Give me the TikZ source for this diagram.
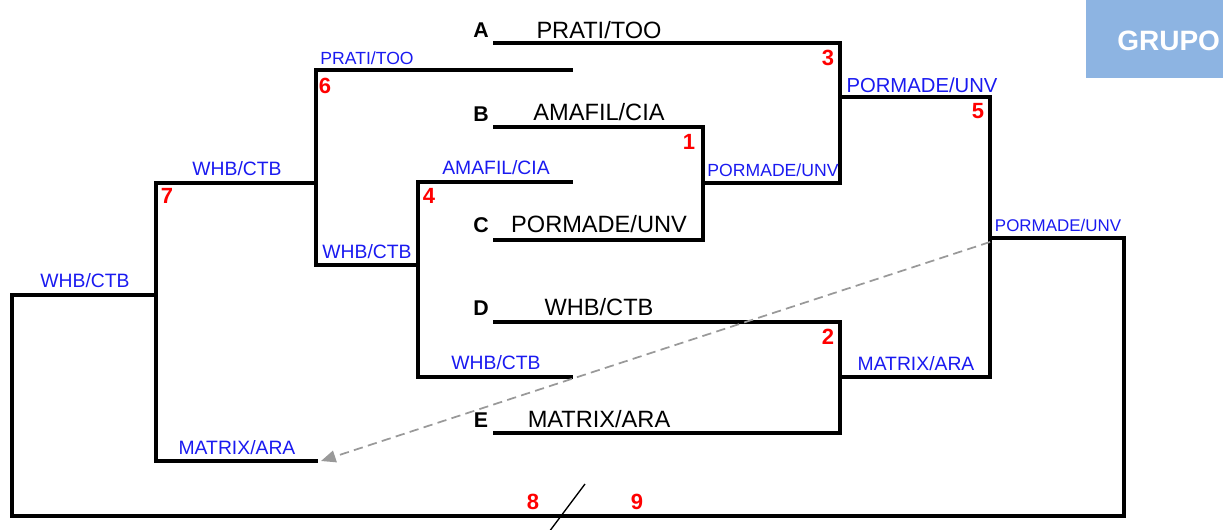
\documentclass[tikz,border=0pt]{standalone}
\usepackage{fontspec}
\setmainfont{Liberation Sans}
\usetikzlibrary{arrows.meta}
\definecolor{grupobg}{HTML}{8DB4E2}
\definecolor{lblblue}{HTML}{1A1AF0}
\definecolor{numred}{HTML}{FF0000}
\tikzset{
  br/.style={line width=2.6pt, line cap=rect},
  team/.style={font=\fontsize{17.7pt}{19pt}\selectfont, inner sep=0pt},
  letter/.style={font=\fontsize{16pt}{18pt}\selectfont\bfseries, inner sep=0pt},
  win/.style={font=\fontsize{14.5pt}{16pt}\selectfont, text=lblblue, inner sep=0pt},
  winsm/.style={font=\fontsize{13.2pt}{15pt}\selectfont, text=lblblue, inner sep=0pt},
  num/.style={font=\fontsize{16.5pt}{18pt}\selectfont\bfseries, text=numred, inner sep=0pt},
}
\begin{document}
\begin{tikzpicture}[x=0.75pt,y=-0.75pt]
\useasboundingbox (0,0) rectangle (1223,529);
% GRUPO box
\begin{scope}
\clip (0,0) rectangle (1223,529);
\fill[grupobg] (1086,0) rectangle (1240,78);
\node[font=\fontsize{21pt}{23pt}\selectfont\bfseries, text=white, anchor=west, inner sep=0pt] (grupo) at (1117,41) {GRUPO};
\end{scope}
% coordinates
\coordinate (a1) at (495,43); \coordinate (a2) at (840,43);
\coordinate (b1) at (495,127); \coordinate (b2) at (703,127);
\coordinate (c1) at (495,240); \coordinate (c2) at (703,240);
\coordinate (d1) at (495,322); \coordinate (d2) at (840,322);
\coordinate (e1) at (495,433); \coordinate (e2) at (840,433);
\coordinate (w1a) at (703,183); \coordinate (w1b) at (840,183);
\coordinate (w3a) at (840,97); \coordinate (w3b) at (990,97);
\coordinate (w2a) at (840,377); \coordinate (w2b) at (990,377);
\coordinate (w5a) at (990,238); \coordinate (w5b) at (1124,238);
\coordinate (p6a) at (316,70); \coordinate (p6b) at (571,70);
\coordinate (p4a) at (418,182); \coordinate (p4b) at (571,182);
\coordinate (q4a) at (418,377); \coordinate (q4b) at (571,377);
\coordinate (q6a) at (316,265); \coordinate (q6b) at (418,265);
\coordinate (p7a) at (156,183); \coordinate (p7b) at (316,183);
\coordinate (q7a) at (156,461); \coordinate (q7b) at (316,461);
\coordinate (p8a) at (12,295); \coordinate (p8b) at (156,295);
\coordinate (bl) at (12,516); \coordinate (brr) at (1124,516);
% bracket lines (right side)
\draw[br] (a1) -- (a2) -- (w1b) -- (w1a) -- (b2) -- (b1);
\draw[br] (c1) -- (c2) -- (w1a);
\draw[br] (w3a) -- (w3b) -- (w2b) -- (w2a);
\draw[br] (d1) -- (d2) -- (e2) -- (e1);
\draw[br] (w5a) -- (w5b) -- (brr) -- (bl) -- (p8a) -- (p8b);
% left side
\draw[br] (p6b) -- (p6a) -- (q6a) -- (q6b);
\draw[br] (p4b) -- (p4a) -- (q4a) -- (q4b);
\draw[br] (p7b) -- (p7a) -- (q7a) -- (q7b);
% letters and teams
\node[letter] (la) at (481,30) {A};
\node[team] (ta) at (599,30) {PRATI/TOO};
\node[letter] (lb) at (481,114) {B};
\node[team] (tb) at (599,112) {AMAFIL/CIA};
\node[letter] (lc) at (481,225) {C};
\node[team] (tc) at (599,224) {PORMADE/UNV};
\node[letter] (ld) at (481,308) {D};
\node[team] (td) at (599,307) {WHB/CTB};
\node[letter] (le) at (481,420) {E};
\node[team] (te) at (599,419) {MATRIX/ARA};
% winners (blue)
\node[winsm] (v1) at (773,170) {PORMADE/UNV};
\node[win, font=\fontsize{15.2pt}{16pt}\selectfont] (v3) at (922,85) {PORMADE/UNV};
\node[win] (v2) at (916,364) {MATRIX/ARA};
\node[winsm, font=\fontsize{12.7pt}{15pt}\selectfont] (v5) at (1058,225) {PORMADE/UNV};
\node[winsm] (v6) at (367,58) {PRATI/TOO};
\node[win] (v4) at (496,168) {AMAFIL/CIA};
\node[win] (v4b) at (496,363) {WHB/CTB};
\node[win] (v6b) at (367,252) {WHB/CTB};
\node[win] (v7) at (237,169) {WHB/CTB};
\node[win] (v7b) at (237,448) {MATRIX/ARA};
\node[win] (v8) at (85,281) {WHB/CTB};
% numbers
\node[num] (n3) at (828,58) {3};
\node[num] (n1) at (689,142) {1};
\node[num] (n2) at (828,337) {2};
\node[num] (n5) at (978,111) {5};
\node[num] (n6) at (325,86) {6};
\node[num] (n4) at (429,196) {4};
\node[num] (n7) at (167,196) {7};
\node[num] (n8) at (533,502) {8};
\node[num] (n9) at (637,502) {9};
% slash
\coordinate (s1) at (549,532); \coordinate (s2) at (585,484);
\draw[line width=1pt] (s1) -- (s2);
% dashed arrow
\coordinate (da) at (990,242); \coordinate (db) at (321,461);
\draw[gray!80, line width=1.3pt, dash pattern=on 7pt off 4pt, -{Triangle[length=11pt,width=9pt]}] (da) -- (db);
\end{tikzpicture}
\end{document}
